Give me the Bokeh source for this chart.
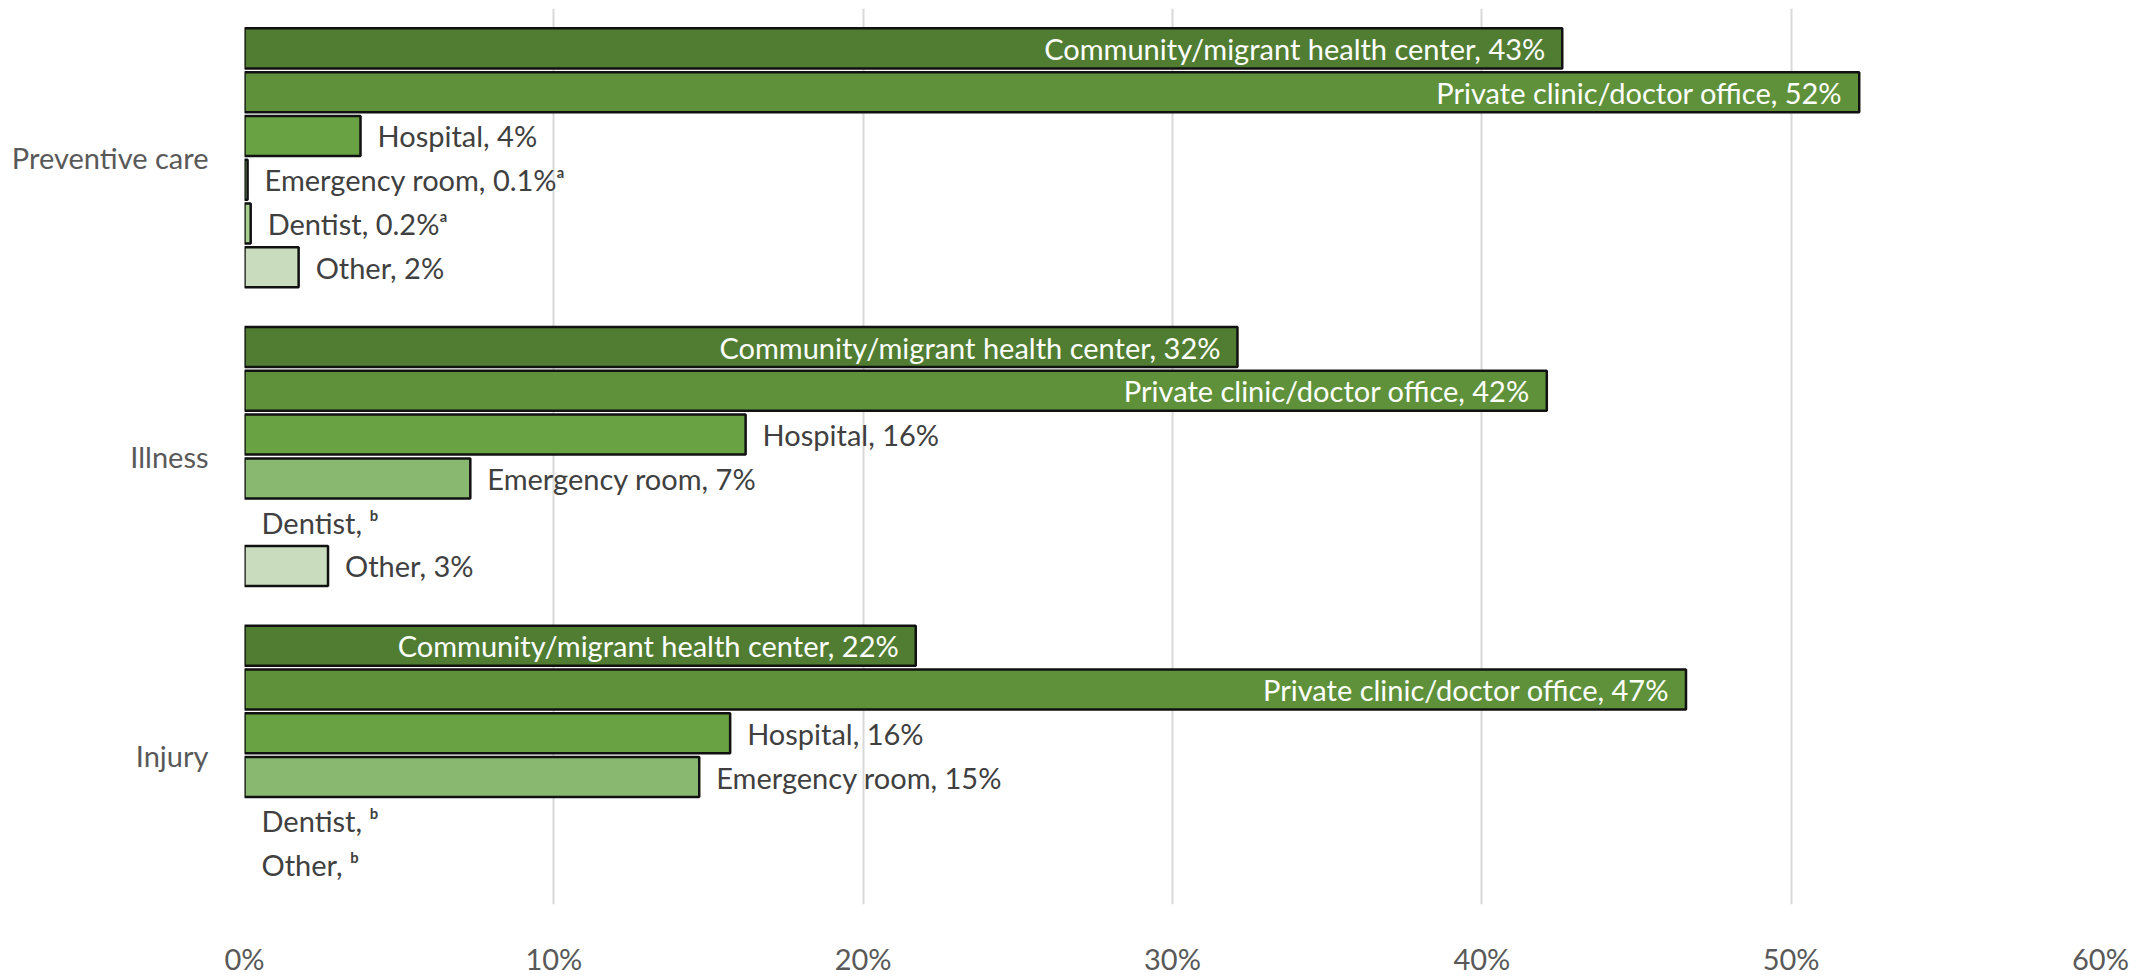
from bokeh.plotting import figure
from bokeh.models import FactorRange, FixedTicker, PrintfTickFormatter, ColumnDataSource
from bokeh.transform import dodge
from bokeh.core.properties import value
from bokeh.embed import file_html
from bokeh.resources import INLINE

nan = float("nan")

# ---- data (percent) ----
categories = ["Preventive care", "Illness", "Injury"]
series_names = ["Community/migrant health center", "Private clinic/doctor office",
                "Hospital", "Emergency room", "Dentist", "Other"]
community = [42.6, 32.1, 21.7]
private = [52.2, 42.1, 46.6]
hospital = [3.75, 16.2, 15.7]
emergency = [0.1, 7.3, 14.7]
dentist = [0.2, nan, nan]
other = [1.75, 2.7, nan]

community_labels = ["43%", "32%", "22%"]
private_labels = ["52%", "42%", "47%"]
hospital_labels = ["4%", "16%", "16%"]
emergency_labels = ["0.1%\u1d43", "7%", "15%"]
dentist_labels = ["0.2%\u1d43", "\u1d47", "\u1d47"]
other_labels = ["2%", "3%", "\u1d47"]

x_ticks = [0, 10, 20, 30, 40, 50, 60]

# ---- styling ----
colors = ["#507D32", "#5E913A", "#68A242", "#89B870", "#A9D08E", "#C9DDBE"]
inside = [True, True, False, False, False, False]
FONT = "Lato"
FS = "29px"

values_all = [community, private, hospital, emergency, dentist, other]
labels_all = [community_labels, private_labels, hospital_labels,
              emergency_labels, dentist_labels, other_labels]

p = figure(width=2136, height=978, output_backend="svg", toolbar_location=None,
           y_range=FactorRange(factors=categories[::-1], range_padding=0),
           x_range=(0, 60),
           min_border_left=244, min_border_right=36, min_border_top=8, min_border_bottom=53)

slot = 0.1466
bar_h = 0.134

for i, (name, vals, labs) in enumerate(zip(series_names, values_all, labels_all)):
    off = (2.5 - i) * slot
    lx = [v if v == v else 0 for v in vals]
    src = ColumnDataSource(dict(cat=categories, v=vals, lx=lx,
                                txt=[f"{name}, {l}" for l in labs]))
    p.hbar(y=dodge("cat", off, range=p.y_range), right="v", left=0, height=bar_h,
           fill_color=colors[i], line_color="#111111", line_width=2.5, source=src)
    if inside[i]:
        p.text(x="lx", y=dodge("cat", off, range=p.y_range), text="txt", source=src,
               text_align="right", text_baseline="middle", x_offset=-17,
               text_color="white", text_font=value(FONT), text_font_size=FS)
    else:
        p.text(x="lx", y=dodge("cat", off, range=p.y_range), text="txt", source=src,
               text_align="left", text_baseline="middle", x_offset=17,
               text_color="#404040", text_font=value(FONT), text_font_size=FS)

p.xaxis.ticker = FixedTicker(ticks=x_ticks)
p.xaxis.formatter = PrintfTickFormatter(format="%d%%")
for ax in (p.xaxis, p.yaxis):
    ax.axis_line_color = None
    ax.major_tick_line_color = None
    ax.minor_tick_line_color = None
    ax.major_label_text_color = "#595959"
    ax.major_label_text_font = FONT
    ax.major_label_text_font_size = FS
p.xaxis.major_label_standoff = 30
p.yaxis.major_label_standoff = 30

p.xgrid.grid_line_color = "#D9D9D9"
p.xgrid.grid_line_width = 2
p.ygrid.grid_line_color = None
p.outline_line_color = None

open("out.html", "w").write(file_html(p, INLINE))
